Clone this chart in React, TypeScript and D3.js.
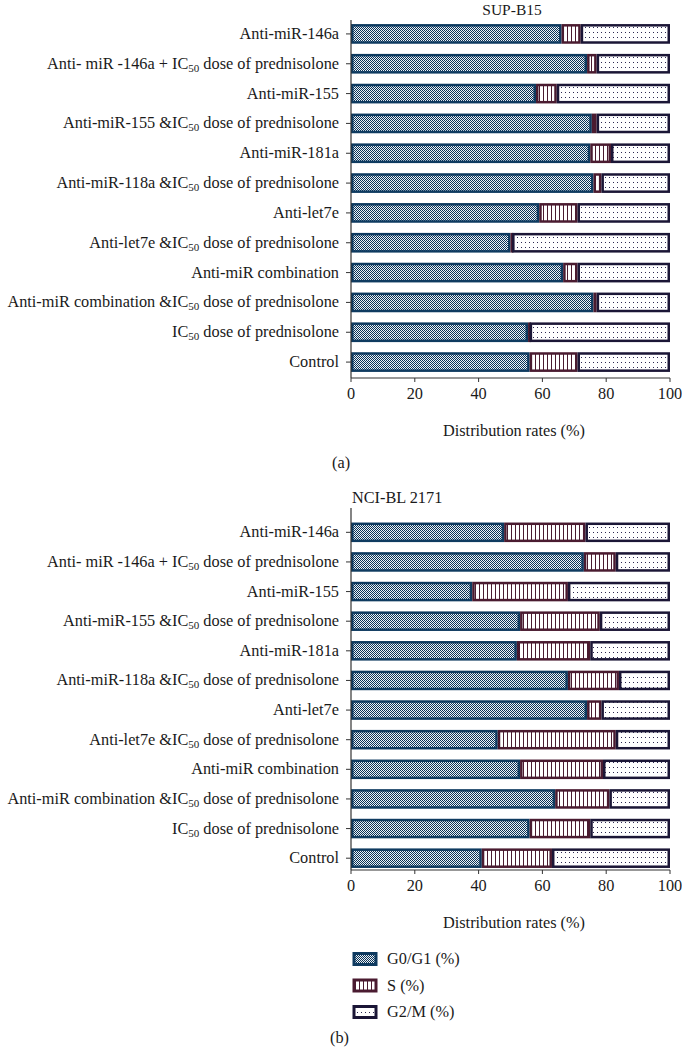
import React, { useEffect, useRef } from "react";
import * as d3 from "d3";

const categories = [
  "Anti-miR-146a",
  "Anti- miR -146a + IC50 dose of prednisolone",
  "Anti-miR-155",
  "Anti-miR-155 &IC50 dose of prednisolone",
  "Anti-miR-181a",
  "Anti-miR-118a &IC50 dose of prednisolone",
  "Anti-let7e",
  "Anti-let7e &IC50 dose of prednisolone",
  "Anti-miR combination",
  "Anti-miR combination &IC50 dose of prednisolone",
  "IC50 dose of prednisolone",
  "Control",
];

const phases = ["G0/G1 (%)", "S (%)", "G2/M (%)"];
const xTicks = [0, 20, 40, 60, 80, 100];

// SUP-B15
const supG0 = [66, 74, 58, 75.5, 75, 76, 59, 50, 66.5, 76, 55.5, 56];
const supS = [6, 3, 6.5, 1.5, 6.5, 2.5, 12, 0.5, 4.5, 1, 0.5, 15];
const supG2 = [28, 23, 35.5, 23, 18.5, 21.5, 29, 49.5, 29, 23, 44, 29];

// NCI-BL 2171
const nciG0 = [48, 73, 38, 53, 52, 68, 74, 46, 53, 64, 56, 41];
const nciS = [25.5, 10, 30, 25, 23, 16, 4.5, 37, 26, 17, 19, 22];
const nciG2 = [26.5, 17, 32, 22, 25, 16, 21.5, 17, 21, 19, 25, 37];

const FONT = "'Liberation Serif', 'Times New Roman', serif";
const FS = 16.3;
const strokes = ["#0f3b60", "#4a1b30", "#1b1636"];
const fills = ["url(#pG0)", "url(#pS)", "url(#pG2)"];

function addLabel(sel, text) {
  var parts = text.split("IC50");
  parts.forEach(function (p, i) {
    if (i > 0) {
      sel.append("tspan").text("IC");
      sel.append("tspan").attr("font-size", 11).attr("dy", 3).text("50");
      sel.append("tspan").attr("dy", -3).text(p);
    } else if (p.length) {
      sel.append("tspan").text(p);
    }
  });
}

export default function App() {
  const ref = useRef(null);

  useEffect(() => {
    var svg = d3.select(ref.current);
    svg.selectAll("*").remove();

    var defs = svg.append("defs");
    var p1 = defs
      .append("pattern")
      .attr("id", "pG0")
      .attr("patternUnits", "userSpaceOnUse")
      .attr("width", 2)
      .attr("height", 2);
    p1.append("rect").attr("width", 2).attr("height", 2).attr("fill", "#eef3f7");
    p1.append("rect").attr("width", 1).attr("height", 1).attr("fill", "#0a3357");
    p1.append("rect").attr("x", 1).attr("y", 1).attr("width", 1).attr("height", 1).attr("fill", "#0a3357");

    var p2 = defs
      .append("pattern")
      .attr("id", "pS")
      .attr("patternUnits", "userSpaceOnUse")
      .attr("width", 4)
      .attr("height", 4);
    p2.append("rect").attr("width", 4).attr("height", 4).attr("fill", "#ffffff");
    p2.append("rect").attr("x", 3).attr("width", 1.2).attr("height", 4).attr("fill", "#4a1b30");

    var p3 = defs
      .append("pattern")
      .attr("id", "pG2")
      .attr("patternUnits", "userSpaceOnUse")
      .attr("width", 4)
      .attr("height", 5);
    p3.append("rect").attr("width", 4).attr("height", 5).attr("fill", "#ffffff");
    p3.append("rect").attr("x", 1).attr("y", 2).attr("width", 1).attr("height", 1).attr("fill", "#2b2850");

    var x = d3.scaleLinear().domain([0, 100]).range([351, 670]);

    function panel(g0, s, g2, top, bottom, axisY, axisTop) {
      var y = d3
        .scaleBand()
        .domain(categories)
        .range([top, bottom])
        .paddingInner(0.34)
        .paddingOuter(0.17);

      var g = svg.append("g");
      categories.forEach(function (c, i) {
        var vals = [g0[i], s[i], g2[i]];
        var start = 0;
        vals.forEach(function (v, k) {
          var x0 = x(start);
          var x1 = x(start + v);
          g.append("rect")
            .attr("x", x0 + 1.25)
            .attr("y", y(c) + 1.25)
            .attr("width", Math.max(x1 - x0 - 2.5, 0.5))
            .attr("height", y.bandwidth() - 2.5)
            .attr("fill", fills[k])
            .attr("stroke", strokes[k])
            .attr("stroke-width", 2.5);
          start += v;
        });

        var t = g
          .append("text")
          .attr("x", 339)
          .attr("y", y(c) + y.bandwidth() / 2 + 5)
          .attr("text-anchor", "end")
          .attr("font-family", FONT)
          .attr("font-size", FS)
          .attr("fill", "#1a1a1a");
        addLabel(t, c);

        g.append("line")
          .attr("x1", 346)
          .attr("x2", 351)
          .attr("y1", y(c) + y.bandwidth() / 2)
          .attr("y2", y(c) + y.bandwidth() / 2)
          .attr("stroke", "#333")
          .attr("stroke-width", 1);
      });

      // axes
      g.append("line")
        .attr("x1", 351)
        .attr("x2", 351)
        .attr("y1", axisTop)
        .attr("y2", axisY)
        .attr("stroke", "#333")
        .attr("stroke-width", 1.2);
      g.append("line")
        .attr("x1", 351)
        .attr("x2", 670)
        .attr("y1", axisY)
        .attr("y2", axisY)
        .attr("stroke", "#333")
        .attr("stroke-width", 1.2);
      xTicks.forEach(function (tk) {
        g.append("line")
          .attr("x1", x(tk))
          .attr("x2", x(tk))
          .attr("y1", axisY)
          .attr("y2", axisY + 4)
          .attr("stroke", "#333");
        g.append("text")
          .attr("x", x(tk))
          .attr("y", axisY + 21)
          .attr("text-anchor", "middle")
          .attr("font-family", FONT)
          .attr("font-size", FS)
          .attr("fill", "#1a1a1a")
          .text(tk);
      });
      g.append("text")
        .attr("x", 514)
        .attr("y", axisY + 58)
        .attr("text-anchor", "middle")
        .attr("font-family", FONT)
        .attr("font-size", FS)
        .attr("fill", "#1a1a1a")
        .text("Distribution rates (%)");
    }

    panel(supG0, supS, supG2, 19, 377, 378, 20);
    panel(nciG0, nciS, nciG2, 517.5, 873, 870, 508);

    svg.append("text")
      .attr("x", 512).attr("y", 14.5)
      .attr("text-anchor", "middle")
      .attr("font-family", FONT).attr("font-size", 15.5).attr("fill", "#1a1a1a")
      .text("SUP-B15");
    svg.append("text")
      .attr("x", 352).attr("y", 503)
      .attr("font-family", FONT).attr("font-size", FS).attr("fill", "#1a1a1a")
      .text("NCI-BL 2171");
    svg.append("text")
      .attr("x", 332).attr("y", 468)
      .attr("font-family", FONT).attr("font-size", FS).attr("fill", "#1a1a1a")
      .text("(a)");
    svg.append("text")
      .attr("x", 330).attr("y", 1043)
      .attr("font-family", FONT).attr("font-size", FS).attr("fill", "#1a1a1a")
      .text("(b)");

    // legend
    phases.forEach(function (p, k) {
      var ly = 953 + k * 26.5;
      svg.append("rect")
        .attr("x", 354).attr("y", ly + 0.5)
        .attr("width", 22).attr("height", 11)
        .attr("fill", fills[k])
        .attr("stroke", strokes[k])
        .attr("stroke-width", 3);
      svg.append("text")
        .attr("x", 387).attr("y", ly + 11)
        .attr("font-family", FONT).attr("font-size", FS).attr("fill", "#1a1a1a")
        .text(p);
    });
  }, []);

  return (
    <svg
      ref={ref}
      width={682}
      height={1049}
      style={{ position: "absolute", left: 0, top: 0, background: "#fff" }}
    />
  );
}
